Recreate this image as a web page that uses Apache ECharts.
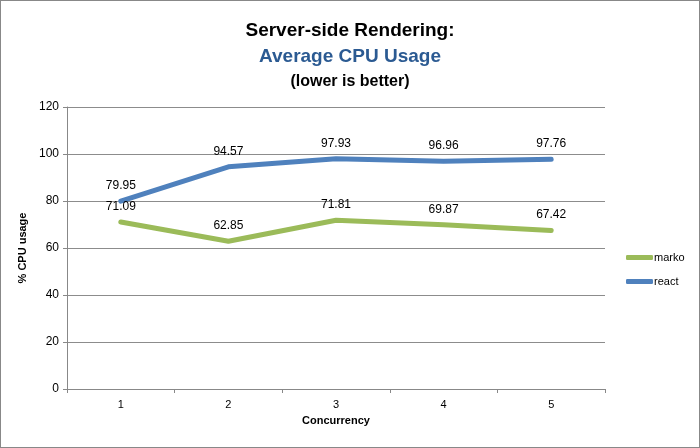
<!DOCTYPE html>
<html><head><meta charset="utf-8">
<script src="https://cdn.jsdelivr.net/npm/echarts@6/dist/echarts.min.js"></script>
<style>html,body{margin:0;padding:0;background:#fff}#c{width:700px;height:448px;box-sizing:border-box;border:1px solid #888}</style>
</head><body><div id="c"></div>
<script>
const categories = ['1','2','3','4','5'];
const markoValues = [71.09, 62.85, 71.81, 69.87, 67.42];
const reactValues = [79.95, 94.57, 97.93, 96.96, 97.76];
const yTicks = [0, 20, 40, 60, 80, 100, 120];

const chart = echarts.init(document.getElementById('c'));
const font = '"Liberation Sans", Arial, sans-serif';
chart.setOption({
  animation: false,
  textStyle: {fontFamily: font},
  title: {
    text: '{a|Server-side Rendering:}\n{b|Average CPU Usage}\n{c|(lower is better)}',
    left: 'center', top: 12,
    textStyle: {
      rich: {
        a: {fontSize: 19, fontWeight: 'bold', color: '#000', lineHeight: 26, fontFamily: font},
        b: {fontSize: 19, fontWeight: 'bold', color: '#2B5A92', lineHeight: 26, fontFamily: font},
        c: {fontSize: 16, fontWeight: 'bold', color: '#000', lineHeight: 24, fontFamily: font}
      }
    }
  },
  legend: {
    orient: 'vertical', left: 620, top: 246, itemGap: 13,
    itemWidth: 27, itemHeight: 5, icon: 'roundRect',
    textStyle: {fontSize: 11, color: '#000', padding: [0,0,0,-4]},
    data: ['marko', 'react']
  },
  grid: {left: 66, right: 94, top: 106, bottom: 58, containLabel: false},
  xAxis: {
    type: 'category', data: categories, boundaryGap: true,
    name: 'Concurrency', nameLocation: 'middle', nameGap: 26,
    nameTextStyle: {fontSize: 11, fontWeight: 'bold', color: '#000'},
    axisLine: {lineStyle: {color: '#888', width: 1}},
    axisTick: {show: true, alignWithLabel: false, length: 4, lineStyle: {color: '#888'}},
    axisLabel: {fontSize: 11, color: '#000', margin: 10}
  },
  yAxis: {
    type: 'value', min: yTicks[0], max: yTicks[yTicks.length-1], interval: 20,
    name: '% CPU usage', nameLocation: 'middle', nameGap: 27, nameRotate: 90,
    nameTextStyle: {fontSize: 11, fontWeight: 'bold', color: '#000'},
    axisLine: {show: true, lineStyle: {color: '#888', width: 1}},
    axisTick: {show: true, length: 4, lineStyle: {color: '#888'}},
    axisLabel: {fontSize: 12, color: '#000', margin: 8},
    splitLine: {lineStyle: {color: '#8c8c8c', width: 1}}
  },
  series: [
    {name: 'marko', type: 'line', data: markoValues, symbol: 'circle', symbolSize: 1, showSymbol: true,
     lineStyle: {color: '#9BBB59', width: 5, cap: 'round', join: 'round'}, itemStyle: {color: '#9BBB59'},
     label: {show: true, position: 'top', distance: 9, fontSize: 12, color: '#000'}},
    {name: 'react', type: 'line', data: reactValues, symbol: 'circle', symbolSize: 1, showSymbol: true,
     lineStyle: {color: '#4F81BD', width: 5, cap: 'round', join: 'round'}, itemStyle: {color: '#4F81BD'},
     label: {show: true, position: 'top', distance: 9, fontSize: 12, color: '#000'}}
  ]
});
</script></body></html>
